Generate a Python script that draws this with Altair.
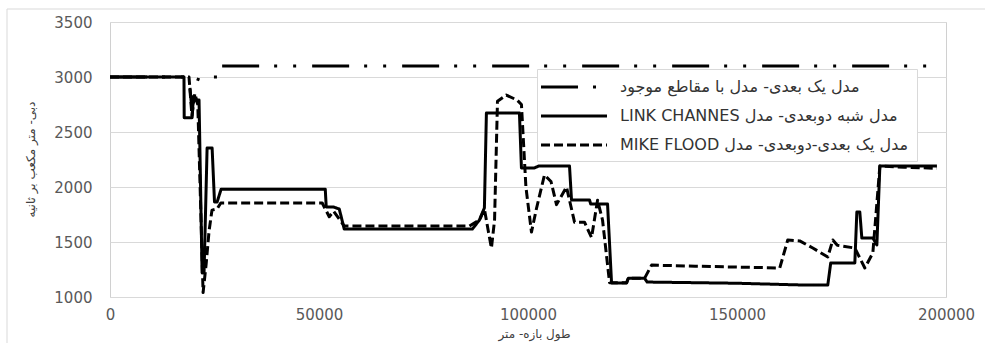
import altair as alt
import pandas as pd

# Series names (legend order)
SERIES = [
    "مدل یک بعدی- مدل با مقاطع موجود",
    "LINK CHANNES مدل شبه دوبعدی- مدل",
    "MIKE FLOOD مدل یک بعدی-دوبعدی- مدل",
]

# 1D model with surveyed cross sections (long dash - dot - dot)
dd_x = [0, 18900, 19600, 20300, 21300, 26100, 26150, 197830]
dd_y = [3000, 3000, 2700, 2900, 3000, 3000, 3100, 3100]

# Quasi-2D model (LINK CHANNES), solid
s_x = [0, 17700, 17750, 19640, 19900, 21300, 22030, 22500, 23230, 24430,
       25000, 25630, 26580, 51500, 51730, 53500, 54850, 56040, 86700, 88380,
       89570, 90050, 97950, 98430, 101550, 102500, 109930, 110410, 114720, 115000,
       119030, 119990, 123580, 124000, 127890, 128500, 150000, 165730, 171720, 172420,
       178190, 178670, 179380, 179860, 182500, 183460, 184180, 197830]
s_y = [3000, 3000, 2630, 2630, 2790, 2790, 1220, 1220, 2355, 2355,
       1864, 1864, 1980, 1980, 1818, 1818, 1800, 1618, 1618, 1700,
       1810, 2672, 2672, 2173, 2173, 2190, 2190, 1882, 1882, 1845,
       1845, 1127, 1127, 1170, 1170, 1136, 1125, 1109, 1109, 1309,
       1309, 1773, 1773, 1536, 1536, 1473, 2190, 2190]

# Coupled 1D-2D model (MIKE FLOOD), dashed
d_x = [0, 18900, 19600, 20300, 21000, 22270, 23000, 23700, 24400, 25600,
       26500, 50770, 51500, 52450, 53500, 56040, 85980, 88400, 89570, 90500,
       91250, 92000, 92700, 94800, 97400, 98430, 99500, 100830, 102000, 103940,
       105500, 106820, 109210, 111130, 113520, 115200, 116640, 117830, 119510, 123580,
       124000, 127890, 129570, 140000, 160230, 162140, 165000, 168130, 171720, 172920,
       174000, 178190, 180580, 182500, 184180, 190000, 197830]
d_y = [3000, 3000, 2650, 2850, 2750, 1040, 1300, 1600, 1790, 1800,
       1855, 1855, 1800, 1730, 1780, 1645, 1645, 1700, 1800, 1600,
       1445, 1700, 2780, 2836, 2790, 2750, 2000, 1590, 1800, 2110,
       2050, 1840, 2000, 1680, 1680, 1540, 1880, 1700, 1130, 1130,
       1170, 1170, 1290, 1280, 1264, 1518, 1510, 1445, 1364, 1518,
       1470, 1445, 1264, 1400, 2190, 2180, 2170]

X_TICKS = [0, 50000, 100000, 150000, 200000]
Y_TICKS = [1000, 1500, 2000, 2500, 3000, 3500]

DASHES = [[37, 15, 3, 16, 3, 16], [1, 0], [9, 4]]
WIDTHS = [3, 3, 2.5]

rows = []
for name, xs, ys in zip(SERIES, [dd_x, s_x, d_x], [dd_y, s_y, d_y]):
    assert len(xs) == len(ys)
    for i, (xv, yv) in enumerate(zip(xs, ys)):
        rows.append({"series": name, "x": xv, "y": yv, "i": i})
df = pd.DataFrame(rows)

FONT = "DejaVu Sans"

lines = alt.Chart(df).mark_line(color="black", strokeCap="butt", strokeJoin="round").encode(
    x=alt.X(
        "x:Q",
        scale=alt.Scale(domain=[0, 200000], nice=False),
        axis=alt.Axis(
            values=X_TICKS, format="d", grid=False, ticks=False, domain=False,
            labelFlush=False, labelPadding=10, labelFontSize=15, labelColor="#595959",
            labelFont=FONT, title="طول بازه- متر", titleFont=FONT, titleFontSize=12,
            titleFontWeight="normal", titleColor="#404040", titleX=424, titleY=36,
            titleBaseline="middle",
        ),
    ),
    y=alt.Y(
        "y:Q",
        scale=alt.Scale(domain=[1000, 3500], nice=False, zero=False),
        axis=alt.Axis(
            values=Y_TICKS, format="d", grid=True, gridColor="#d9d9d9", ticks=False,
            domain=False, labelPadding=18, labelFontSize=15, labelColor="#595959",
            labelFont=FONT, title="دبی- متر مکعب بر ثانیه", titleFont=FONT,
            titleFontSize=12, titleFontWeight="normal", titleColor="#404040",
            titleAngle=270, titleX=-80, titleY=137, titleAlign="center",
            titleBaseline="middle",
        ),
    ),
    detail="series:N",
    order="i:Q",
    strokeDash=alt.StrokeDash(
        "series:N",
        scale=alt.Scale(domain=SERIES, range=DASHES),
        legend=alt.Legend(
            title=None, orient="none", legendX=427, legendY=47, padding=8,
            fillColor="white", strokeColor="#d9d9d9",
            symbolType="M-4,0H4", symbolSize=272, symbolOffset=19,
            symbolStrokeWidth=2.5, symbolStrokeColor="black",
            labelOffset=36, labelFont=FONT, labelFontSize=16, labelColor="#333333",
            rowPadding=11, labelLimit=400,
        ),
    ),
    strokeWidth=alt.StrokeWidth(
        "series:N", scale=alt.Scale(domain=SERIES, range=WIDTHS), legend=None
    ),
)

# light frame around the whole chart area
frame = alt.Chart(alt.Data(values=[{"k": 1}])).mark_rect(
    fill="transparent", stroke="#d9d9d9", strokeWidth=1
).encode(
    x=alt.value(-103), x2=alt.value(890), y=alt.value(-13), y2=alt.value(330)
)

chart = alt.layer(frame, lines).properties(
    width=836,
    height=275,
    padding={"left": 110, "top": 22, "right": 39, "bottom": 46},
    autosize=alt.AutoSizeParams(type="none"),
    background="white",
).configure_view(stroke="#d0d0d0", strokeWidth=1)

chart.save("out.html", embed_options={"renderer": "svg", "actions": False})
